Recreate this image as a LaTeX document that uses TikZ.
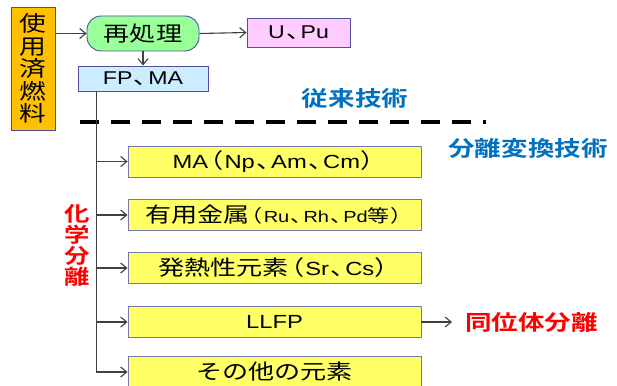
\documentclass[tikz,border=0pt]{standalone}
\usepackage{fontspec}
\setmainfont[FakeStretch=1.25]{Liberation Sans}
\newfontfamily\jp[FakeStretch=1.25,Scale=1.1,BoldFont={Noto Sans CJK JP Bold}]{Noto Sans CJK JP}
\newfontfamily\jpp[FakeStretch=1.25,Scale=1.1,RawFeature={+palt}]{Noto Sans CJK JP}
\newcommand{\J}[1]{{\jp #1}}
\newcommand{\Jp}[1]{\hspace{1.6pt}{\jpp #1}\hspace{1.6pt}}
\usetikzlibrary{arrows.meta}
\definecolor{bord}{RGB}{80,80,160}
\definecolor{ybord}{RGB}{120,120,170}
\definecolor{orangef}{RGB}{255,192,0}
\definecolor{greenf}{RGB}{153,255,153}
\definecolor{pinkf}{RGB}{255,204,255}
\definecolor{bluef}{RGB}{204,236,255}
\definecolor{yellowf}{RGB}{255,255,102}
\definecolor{bluet}{RGB}{0,112,192}
\definecolor{redt}{RGB}{255,0,0}
\definecolor{conn}{RGB}{64,64,64}
\tikzset{
  box/.style={draw=bord, line width=0.9pt, inner sep=0pt, align=center},
  ybox/.style={box, draw=ybord, fill=yellowf, minimum width=293pt, minimum height=31pt, font=\fontsize{19}{22}\selectfont},
  arr/.style={draw=conn, line width=1.1pt, -{Straight Barb[length=6pt,width=10pt,line width=1.1pt]}},
  bluelabel/.style={text=bluet, inner sep=0pt, font=\fontsize{19.3}{22}\selectfont\jp\bfseries},
  redlabel/.style={text=redt, inner sep=0pt, font=\fontsize{19.3}{22}\selectfont\jp\bfseries, align=center},
}
\begin{document}
\begin{tikzpicture}[x=1pt,y=-1pt]
\useasboundingbox (0,0) rectangle (617,385);
% top part
\node[box, fill=orangef, minimum width=44pt, minimum height=123pt,
      font=\fontsize{19.5}{22.5}\selectfont\jp] (fuel) at (33,68.5) {使\\用\\済\\燃\\料};
\node[box, fill=greenf, rounded corners=14pt, minimum width=112pt, minimum height=35pt,
      font=\fontsize{19}{22}\selectfont\jp] (re) at (143,33.5) {再処理};
\node[box, fill=pinkf, minimum width=103pt, minimum height=29pt,
      font=\fontsize{18.5}{21}\selectfont] (upu) at (298.5,32.5) {U\Jp{、}Pu};
\node[box, fill=bluef, minimum width=130pt, minimum height=25pt,
      font=\fontsize{18.5}{21}\selectfont] (fpma) at (143,78.5) {FP\Jp{、}MA};
\draw[arr] (fuel.east |- re.west) -- (re.west);
\draw[arr] (re.east) -- (upu.west);
\draw[arr] (re.south) -- (fpma.north);
% labels
\node[bluelabel] (conv) at (355,98) {従来技術};
\node[bluelabel] (pt) at (528,148) {分離変換技術};
\coordinate (d0) at (80,122);
\coordinate (d1) at (486,122);
\draw[black, line width=4pt, dash pattern=on 19pt off 12pt] (d0) -- (d1);
% yellow boxes
\node[ybox] (ma) at (274.5,161.5) {MA\Jp{（}Np\Jp{、}Am\Jp{、}Cm\Jp{）}};
\node[ybox] (metal) at (274.5,215) {\J{有用金属}{\fontsize{16}{18}\selectfont\Jp{（}Ru\Jp{、}Rh\Jp{、}Pd\J{等}\Jp{）}}};
\node[ybox] (heat) at (274.5,268) {\J{発熱性元素}\Jp{（}Sr\Jp{、}Cs\Jp{）}};
\node[ybox] (llfp) at (274.5,322) {LLFP};
\node[ybox] (other) at (274.5,372) {\J{その他の元素}};
\node[redlabel, anchor=west] (iso) at (465,322) {同位体分離};
\node[redlabel, font=\fontsize{18.5}{21}\selectfont\jp\bfseries] (chem) at (77,245) {化\\学\\分\\離};
% trunk
\coordinate (t0) at ([xshift=19pt]fpma.south west);
\draw[arr] (t0) |- (other.west);
\draw[arr] (t0 |- ma.west) -- (ma.west);
\draw[arr] (t0 |- metal.west) -- (metal.west);
\draw[arr] (t0 |- heat.west) -- (heat.west);
\draw[arr] (t0 |- llfp.west) -- (llfp.west);
\draw[arr] (llfp.east) -- ([xshift=-13pt]iso.west);
\end{tikzpicture}
\end{document}
